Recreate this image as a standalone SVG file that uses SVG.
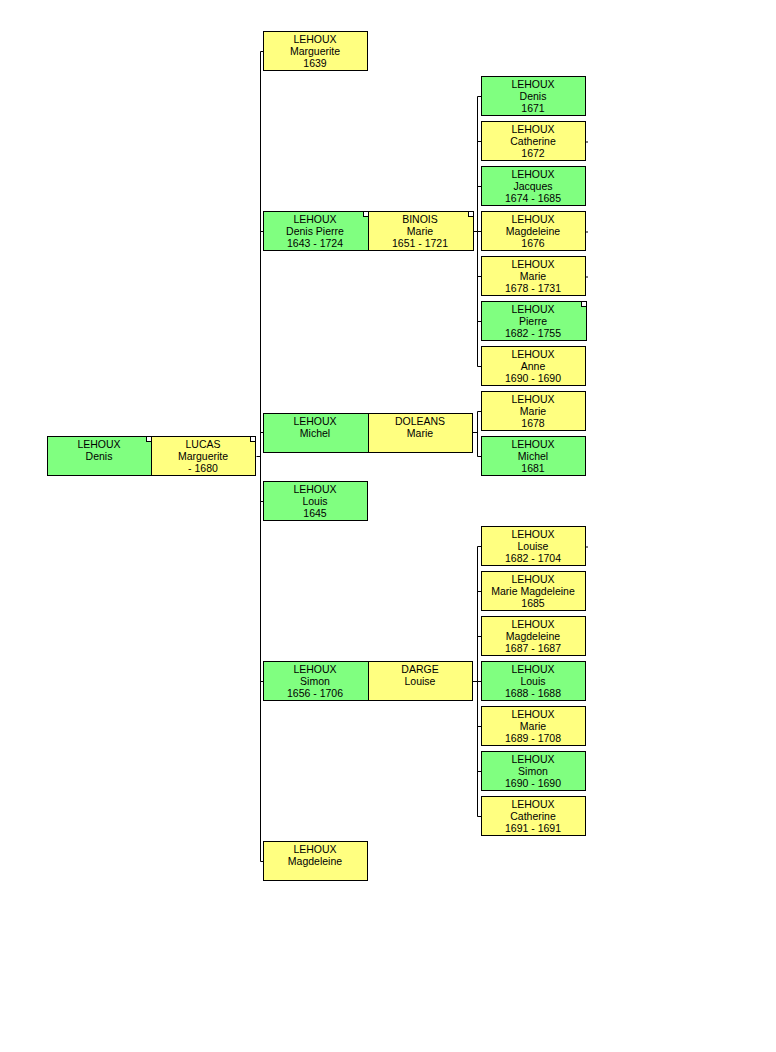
<svg xmlns="http://www.w3.org/2000/svg" width="776" height="1052" viewBox="0 0 776 1052">
<style>
rect.g{fill:#80ff80;stroke:#000;stroke-width:1}
rect.y{fill:#ffff80;stroke:#000;stroke-width:1}
text{font-family:"Liberation Sans",Arial,sans-serif;font-size:10.5px;text-anchor:middle;fill:#000}
.c{fill:none;stroke:#000;stroke-width:1}
.m{fill:#fff;stroke:#000;stroke-width:1}
</style>
<rect width="776" height="1052" fill="#fff"/>
<g id="connectors">
<path class="c" d="M256.5,456.5H260.5M260.5,51.5V861.5M260.5,51.5H263M260.5,231.5H263M260.5,432.5H263M260.5,501.5H263M260.5,681.5H263M260.5,861.5H263"/>
<path class="c" d="M473,231.5H477.5M477.5,96.5V366.5M477.5,96.5H481M477.5,141.5H481M477.5,186.5H481M477.5,231.5H481M477.5,276.5H481M477.5,321.5H481M477.5,366.5H481"/>
<path class="c" d="M472,432.5H477.5M477.5,411.5V456.5M477.5,411.5H481M477.5,456.5H481"/>
<path class="c" d="M472,681.5H477.5M477.5,546.5V816.5M477.5,546.5H481M477.5,591.5H481M477.5,636.5H481M477.5,681.5H481M477.5,726.5H481M477.5,771.5H481M477.5,816.5H481"/>
<path class="c" stroke-width="2" d="M585,142H588M585,232H588M585,277H588M585,547H588"/>
</g>
<g id="n_root"><rect class="g" x="47.5" y="436.5" width="104" height="39"/><rect class="m" x="146.5" y="436.5" width="5" height="5"/><text x="99" y="448">LEHOUX</text><text x="99" y="460">Denis</text></g>
<g id="n_lucas"><rect class="y" x="151.5" y="436.5" width="104" height="39"/><rect class="m" x="250.5" y="436.5" width="5" height="5"/><text x="203" y="448">LUCAS</text><text x="203" y="460">Marguerite</text><text x="203" y="472">- 1680</text></g>
<g id="n_marguerite"><rect class="y" x="263.5" y="31.5" width="104" height="39"/><text x="315" y="43">LEHOUX</text><text x="315" y="55">Marguerite</text><text x="315" y="67">1639</text></g>
<g id="n_denispierre"><rect class="g" x="263.5" y="211.5" width="105" height="39"/><rect class="m" x="363.5" y="211.5" width="5" height="5"/><text x="315" y="223">LEHOUX</text><text x="315" y="235">Denis Pierre</text><text x="315" y="247">1643 - 1724</text></g>
<g id="n_binois"><rect class="y" x="368.5" y="211.5" width="105" height="39"/><rect class="m" x="468.5" y="211.5" width="5" height="5"/><text x="420" y="223">BINOIS</text><text x="420" y="235">Marie</text><text x="420" y="247">1651 - 1721</text></g>
<g id="n_michel"><rect class="g" x="263.5" y="413.5" width="105" height="39"/><text x="315" y="425">LEHOUX</text><text x="315" y="437">Michel</text></g>
<g id="n_doleans"><rect class="y" x="368.5" y="413.5" width="104" height="39"/><text x="420" y="425">DOLEANS</text><text x="420" y="437">Marie</text></g>
<g id="n_louis"><rect class="g" x="263.5" y="481.5" width="104" height="39"/><text x="315" y="493">LEHOUX</text><text x="315" y="505">Louis</text><text x="315" y="517">1645</text></g>
<g id="n_simon"><rect class="g" x="263.5" y="661.5" width="105" height="39"/><text x="315" y="673">LEHOUX</text><text x="315" y="685">Simon</text><text x="315" y="697">1656 - 1706</text></g>
<g id="n_darge"><rect class="y" x="368.5" y="661.5" width="104" height="39"/><text x="420" y="673">DARGE</text><text x="420" y="685">Louise</text></g>
<g id="n_magdeleine"><rect class="y" x="263.5" y="841.5" width="104" height="39"/><text x="315" y="853">LEHOUX</text><text x="315" y="865">Magdeleine</text></g>
<g id="n_gc1"><rect class="g" x="481.5" y="76.5" width="104" height="39"/><text x="533" y="88">LEHOUX</text><text x="533" y="100">Denis</text><text x="533" y="112">1671</text></g>
<g id="n_gc2"><rect class="y" x="481.5" y="121.5" width="104" height="39"/><text x="533" y="133">LEHOUX</text><text x="533" y="145">Catherine</text><text x="533" y="157">1672</text></g>
<g id="n_gc3"><rect class="g" x="481.5" y="166.5" width="104" height="39"/><text x="533" y="178">LEHOUX</text><text x="533" y="190">Jacques</text><text x="533" y="202">1674 - 1685</text></g>
<g id="n_gc4"><rect class="y" x="481.5" y="211.5" width="104" height="39"/><text x="533" y="223">LEHOUX</text><text x="533" y="235">Magdeleine</text><text x="533" y="247">1676</text></g>
<g id="n_gc5"><rect class="y" x="481.5" y="256.5" width="104" height="39"/><text x="533" y="268">LEHOUX</text><text x="533" y="280">Marie</text><text x="533" y="292">1678 - 1731</text></g>
<g id="n_gc6"><rect class="g" x="481.5" y="301.5" width="105" height="39"/><rect class="m" x="581.5" y="301.5" width="5" height="5"/><text x="533" y="313">LEHOUX</text><text x="533" y="325">Pierre</text><text x="533" y="337">1682 - 1755</text></g>
<g id="n_gc7"><rect class="y" x="481.5" y="346.5" width="104" height="39"/><text x="533" y="358">LEHOUX</text><text x="533" y="370">Anne</text><text x="533" y="382">1690 - 1690</text></g>
<g id="n_gc8"><rect class="y" x="481.5" y="391.5" width="104" height="39"/><text x="533" y="403">LEHOUX</text><text x="533" y="415">Marie</text><text x="533" y="427">1678</text></g>
<g id="n_gc9"><rect class="g" x="481.5" y="436.5" width="104" height="39"/><text x="533" y="448">LEHOUX</text><text x="533" y="460">Michel</text><text x="533" y="472">1681</text></g>
<g id="n_gc10"><rect class="y" x="481.5" y="526.5" width="104" height="39"/><text x="533" y="538">LEHOUX</text><text x="533" y="550">Louise</text><text x="533" y="562">1682 - 1704</text></g>
<g id="n_gc11"><rect class="y" x="481.5" y="571.5" width="104" height="39"/><text x="533" y="583">LEHOUX</text><text x="533" y="595">Marie Magdeleine</text><text x="533" y="607">1685</text></g>
<g id="n_gc12"><rect class="y" x="481.5" y="616.5" width="104" height="39"/><text x="533" y="628">LEHOUX</text><text x="533" y="640">Magdeleine</text><text x="533" y="652">1687 - 1687</text></g>
<g id="n_gc13"><rect class="g" x="481.5" y="661.5" width="104" height="39"/><text x="533" y="673">LEHOUX</text><text x="533" y="685">Louis</text><text x="533" y="697">1688 - 1688</text></g>
<g id="n_gc14"><rect class="y" x="481.5" y="706.5" width="104" height="39"/><text x="533" y="718">LEHOUX</text><text x="533" y="730">Marie</text><text x="533" y="742">1689 - 1708</text></g>
<g id="n_gc15"><rect class="g" x="481.5" y="751.5" width="104" height="39"/><text x="533" y="763">LEHOUX</text><text x="533" y="775">Simon</text><text x="533" y="787">1690 - 1690</text></g>
<g id="n_gc16"><rect class="y" x="481.5" y="796.5" width="104" height="39"/><text x="533" y="808">LEHOUX</text><text x="533" y="820">Catherine</text><text x="533" y="832">1691 - 1691</text></g>
</svg>
